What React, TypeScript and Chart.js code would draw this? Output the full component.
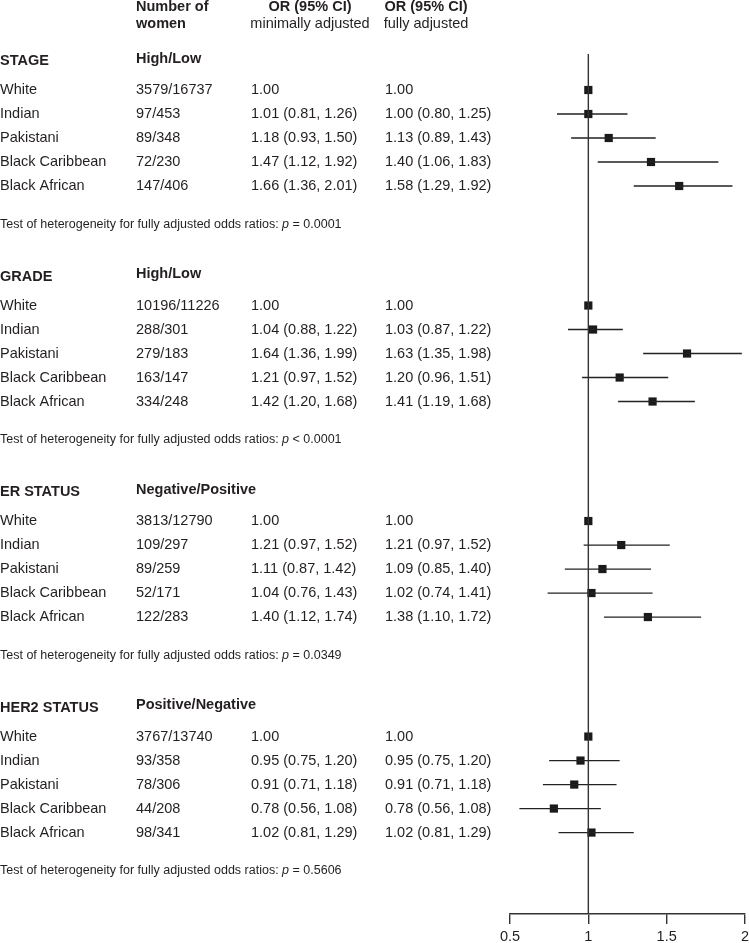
import React, { useEffect, useRef } from "react";
import { Chart, registerables } from "chart.js";

Chart.register(...registerables);

// ---------- data ----------
const groups = ["White", "Indian", "Pakistani", "Black Caribbean", "Black African"];
const sections = ["STAGE", "GRADE", "ER STATUS", "HER2 STATUS"];
const subheads = ["High/Low", "High/Low", "Negative/Positive", "Positive/Negative"];

const counts = [
  ["3579/16737", "97/453", "89/348", "72/230", "147/406"],
  ["10196/11226", "288/301", "279/183", "163/147", "334/248"],
  ["3813/12790", "109/297", "89/259", "52/171", "122/283"],
  ["3767/13740", "93/358", "78/306", "44/208", "98/341"],
];

// minimally adjusted OR, lower, upper
const minOR = [
  [1.0, 1.01, 1.18, 1.47, 1.66],
  [1.0, 1.04, 1.64, 1.21, 1.42],
  [1.0, 1.21, 1.11, 1.04, 1.4],
  [1.0, 0.95, 0.91, 0.78, 1.02],
];
const minLo = [
  [null, 0.81, 0.93, 1.12, 1.36],
  [null, 0.88, 1.36, 0.97, 1.2],
  [null, 0.97, 0.87, 0.76, 1.12],
  [null, 0.75, 0.71, 0.56, 0.81],
];
const minHi = [
  [null, 1.26, 1.5, 1.92, 2.01],
  [null, 1.22, 1.99, 1.52, 1.68],
  [null, 1.52, 1.42, 1.43, 1.74],
  [null, 1.2, 1.18, 1.08, 1.29],
];

// fully adjusted OR, lower, upper (plotted)
const fullOR = [
  [1.0, 1.0, 1.13, 1.4, 1.58],
  [1.0, 1.03, 1.63, 1.2, 1.41],
  [1.0, 1.21, 1.09, 1.02, 1.38],
  [1.0, 0.95, 0.91, 0.78, 1.02],
];
const fullLo = [
  [null, 0.8, 0.89, 1.06, 1.29],
  [null, 0.87, 1.35, 0.96, 1.19],
  [null, 0.97, 0.85, 0.74, 1.1],
  [null, 0.75, 0.71, 0.56, 0.81],
];
const fullHi = [
  [null, 1.25, 1.43, 1.83, 1.92],
  [null, 1.22, 1.98, 1.51, 1.68],
  [null, 1.52, 1.4, 1.41, 1.72],
  [null, 1.2, 1.18, 1.08, 1.29],
];

const pValues = ["= 0.0001", "< 0.0001", "= 0.0349", "= 0.5606"];
const xTicks = [0.5, 1, 1.5, 2];

// ---------- layout (row units) ----------
const ROW_PX = 24;
const FIRST_ROW = 3.75;
const SECTION_GAP = 8.98;
const rowY = (s: number, r: number) => FIRST_ROW + s * SECTION_GAP + r;

const FONT = '"Liberation Sans", Arial, Helvetica, sans-serif';
const INK = "#231f20";

function fmt(or: number, lo: number | null, hi: number | null) {
  if (lo === null || hi === null) return or.toFixed(2);
  return `${or.toFixed(2)} (${lo.toFixed(2)}, ${hi.toFixed(2)})`;
}

const textPlugin = {
  id: "forestText",
  afterDraw(chart: any) {
    const ctx = chart.ctx as CanvasRenderingContext2D;
    const y = chart.scales.y;
    const py = (v: number) => y.getPixelForValue(v);
    ctx.save();
    ctx.fillStyle = INK;
    ctx.textBaseline = "middle";
    const bold = `bold 14.5px ${FONT}`;
    const reg = `14.5px ${FONT}`;

    // column headers
    ctx.font = bold;
    ctx.textAlign = "left";
    ctx.fillText("Number of", 136, py(0.28));
    ctx.fillText("women", 136, py(0.98));
    ctx.textAlign = "center";
    ctx.fillText("OR (95% CI)", 310, py(0.28));
    ctx.fillText("OR (95% CI)", 426, py(0.28));
    ctx.font = reg;
    ctx.fillText("minimally adjusted", 310, py(0.98));
    ctx.fillText("fully adjusted", 426, py(0.98));
    ctx.textAlign = "left";

    sections.forEach((sec, s) => {
      ctx.font = bold;
      ctx.fillText(sec, 0, py(rowY(s, -1.2)));
      ctx.fillText(subheads[s], 136, py(rowY(s, -1.3)));
      ctx.font = reg;
      groups.forEach((g, r) => {
        const yy = py(rowY(s, r));
        ctx.fillText(g, 0, yy);
        ctx.fillText(counts[s][r], 136, yy);
        ctx.fillText(fmt(minOR[s][r], minLo[s][r], minHi[s][r]), 251, yy);
        ctx.fillText(fmt(fullOR[s][r], fullLo[s][r], fullHi[s][r]), 385, yy);
      });
      // heterogeneity test
      const ty = py(rowY(s, 5.6));
      const small = `12.5px ${FONT}`;
      const pre = "Test of heterogeneity for fully adjusted odds ratios: ";
      ctx.font = small;
      ctx.fillText(pre, 0, ty);
      let x = ctx.measureText(pre).width;
      ctx.font = `italic 12.5px ${FONT}`;
      ctx.fillText("p", x, ty);
      x += ctx.measureText("p").width;
      ctx.font = small;
      ctx.fillText(" " + pValues[s], x, ty);
    });
    ctx.restore();
  },
};

export default function App() {
  const ref = useRef<HTMLCanvasElement | null>(null);

  useEffect(() => {
    if (!ref.current) return;
    const yMax = 914 / ROW_PX;
    const datasets: any[] = [];

    // reference line at OR = 1
    datasets.push({
      type: "line",
      data: [
        { x: 1, y: 2.25 },
        { x: 1, y: yMax },
      ],
      borderColor: "#333333",
      borderWidth: 1.4,
      pointRadius: 0,
      showLine: true,
    });

    // confidence intervals
    sections.forEach((_, s) => {
      groups.forEach((_, r) => {
        const lo = fullLo[s][r];
        const hi = fullHi[s][r];
        if (lo === null || hi === null) return;
        datasets.push({
          type: "line",
          data: [
            { x: lo, y: rowY(s, r) },
            { x: hi, y: rowY(s, r) },
          ],
          borderColor: "#222222",
          borderWidth: 1.3,
          pointRadius: 0,
          showLine: true,
        });
      });
    });

    // point estimates
    const pts: { x: number; y: number }[] = [];
    sections.forEach((_, s) =>
      groups.forEach((_, r) => pts.push({ x: fullOR[s][r], y: rowY(s, r) }))
    );
    datasets.push({
      type: "scatter",
      data: pts,
      pointStyle: "rect",
      pointRadius: 5.8,
      pointBackgroundColor: "#1a1a1a",
      pointBorderWidth: 0,
      borderWidth: 0,
    });

    const chart = new Chart(ref.current, {
      type: "scatter",
      data: { datasets },
      options: {
        animation: false,
        responsive: false,
        events: [],
        layout: { autoPadding: false, padding: { left: 510, right: 4, top: 0, bottom: 0 } },
        plugins: { legend: { display: false }, tooltip: { enabled: false } },
        scales: {
          x: {
            type: "linear",
            min: 0.5,
            max: 2,
            afterBuildTicks: (scale: any) => {
              scale.ticks = xTicks.map((v) => ({ value: v }));
            },
            afterFit: (scale: any) => {
              scale.height = 29;
              scale.paddingLeft = 0;
              scale.paddingRight = 0;
            },
            grid: {
              drawOnChartArea: false,
              drawTicks: true,
              tickLength: 10,
              color: "#333333",
              lineWidth: 1.4,
            },
            border: { display: true, color: "#333333", width: 1.4 },
            ticks: {
              padding: 4,
              color: INK,
              font: { family: FONT, size: 14.5 },
              callback: (v: any) => String(v),
              autoSkip: false,
              maxRotation: 0,
            },
          },
          y: {
            type: "linear",
            display: false,
            reverse: true,
            min: 0,
            max: yMax,
          },
        },
      },
      plugins: [textPlugin],
    });
    return () => chart.destroy();
  }, []);

  return (
    <div style={{ position: "absolute", left: 0, top: 0, width: 749, height: 943, background: "#fff" }}>
      <canvas ref={ref} width={749} height={943} style={{ width: 749, height: 943, display: "block" }} />
    </div>
  );
}
